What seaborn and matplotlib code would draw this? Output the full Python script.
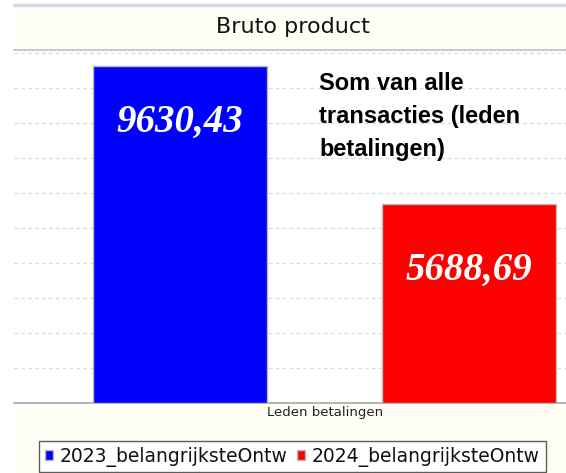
import matplotlib
matplotlib.use("Agg")
import matplotlib.pyplot as plt
import matplotlib.patches as mpatches
import seaborn as sns
import pandas as pd

# Data
series = ["2023_belangrijksteOntw", "2024_belangrijksteOntw"]
values = [9630.43, 5688.69]
colors = ["#0000FF", "#FF0000"]
label_drop = [1600, 1890]  # how far below the bar top the value label sits
category = "Leden betalingen"
title = "Bruto product"
note = "Som van alle\ntransacties (leden\nbetalingen)"

sns.set_theme(style="white")
plt.rcParams["font.family"] = ["DejaVu Sans"]

W, H = 566, 473
fig = plt.figure(figsize=(W / 100, H / 100), dpi=100)
fig.patch.set_facecolor("white")


def fx(px):
    return px / W


def fy(py):
    return 1 - py / H


# chart panel background (cream) + decorative lines
fig.patches.append(mpatches.Rectangle((fx(14), 0), 1 - fx(14), fy(5), transform=fig.transFigure,
                                      facecolor="#FFFFF6", edgecolor="none", zorder=-5))
fig.add_artist(plt.Line2D([fx(14), 1], [fy(5), fy(5)], color="#D5DAE6", lw=2.5, transform=fig.transFigure))
fig.add_artist(plt.Line2D([fx(14), 1], [fy(50), fy(50)], color="#C8C8C8", lw=1.5, transform=fig.transFigure))

ax = fig.add_axes([fx(14), fy(403), 1 - fx(14), (403 - 51) / H])
ax.set_facecolor("white")

df = pd.DataFrame({"serie": series, "waarde": values})
sns.barplot(data=df, x="serie", y="waarde", hue="serie", palette=colors,
            width=0.6, dodge=False, legend=True, saturation=1, ax=ax,
            edgecolor="#BBBBBB", linewidth=1, zorder=3)

ax.set_ylim(0, 10060)
ax.set_xlim(-0.574, 1.336)
ax.set_yticks(range(1000, 10001, 1000))
ax.yaxis.grid(True, color="#DADADA", linestyle=(0, (3, 2.5)), linewidth=0.9)
ax.set_axisbelow(True)
ax.tick_params(left=False, bottom=False, labelleft=False, labelbottom=False)
ax.set_xlabel("")
ax.set_ylabel("")
for side in ["top", "left", "right"]:
    ax.spines[side].set_visible(False)
ax.spines["bottom"].set_color("#A8A8A8")
ax.spines["bottom"].set_linewidth(1.2)

for i, (v, d) in enumerate(zip(values, label_drop)):
    ax.text(i, v - d, f"{v:.2f}".replace(".", ","), ha="center", va="center",
            color="white", family="Liberation Serif", fontweight="bold",
            fontstyle="italic", fontsize=28, zorder=5)

ax.text(0.553, 1 - (72 - 51) / 352, note, transform=ax.transAxes, ha="left", va="top",
        family="Liberation Sans", fontweight="bold", fontsize=17, linespacing=1.55,
        color="black")

fig.text(fx(293), fy(27), title, ha="center", va="center", fontsize=16, color="#111111")
fig.text(fx(325), fy(412), category, ha="center", va="center", fontsize=9.5, color="#222222")

handles, labels = ax.get_legend_handles_labels()
ax.get_legend().remove()
leg = fig.legend(handles, labels, loc="upper left", bbox_to_anchor=(fx(39), fy(441)),
                 ncol=2, fontsize=13.5, frameon=True, fancybox=False,
                 handlelength=0.45, handleheight=0.45, handletextpad=0.35,
                 columnspacing=0.5, borderpad=0.3, borderaxespad=0)
leg.get_frame().set_edgecolor("#333333")
leg.get_frame().set_linewidth(1)
leg.get_frame().set_facecolor("white")
for t in leg.get_texts():
    t.set_color("#111111")

fig.savefig("out.png", dpi=100)
